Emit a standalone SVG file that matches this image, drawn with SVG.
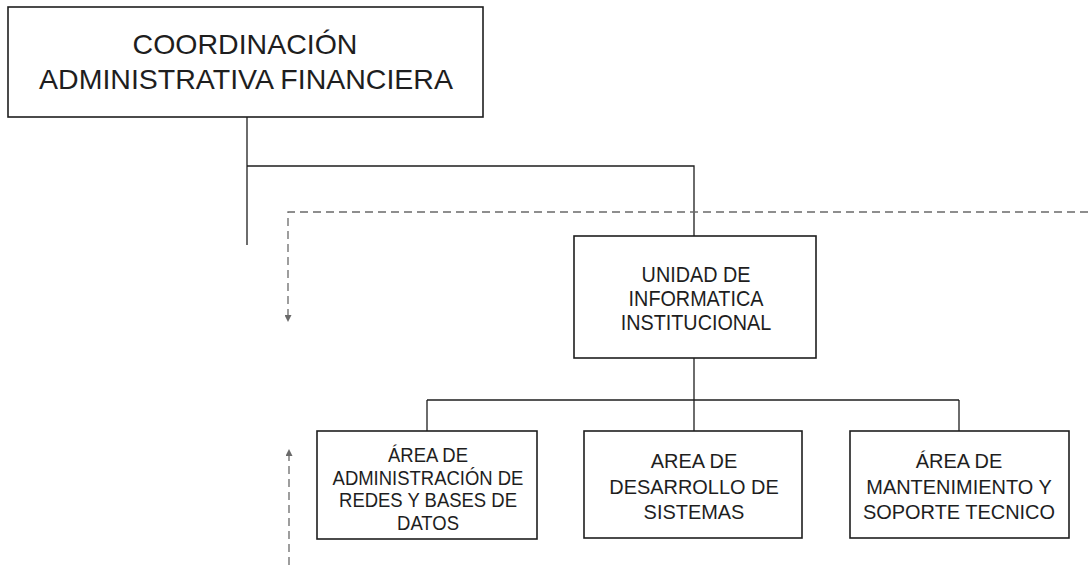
<svg xmlns="http://www.w3.org/2000/svg" width="1088" height="565" viewBox="0 0 1088 565">
<style>
.box{fill:#fff;stroke:#1e1e1e;stroke-width:1.6}
.t{font-family:"Liberation Sans",Arial,Helvetica,sans-serif;fill:#1e1e1e;text-anchor:middle}
.conn{fill:none;stroke:#1e1e1e;stroke-width:1.3}
.dash{fill:none;stroke:#6a6a6a;stroke-width:1.3;stroke-dasharray:8 5}
</style>
<defs>
<marker id="arr" viewBox="0 0 10 10" refX="10" refY="5" markerWidth="8" markerHeight="7" markerUnits="userSpaceOnUse" orient="auto">
<path d="M0,0 L10,5 L0,10 z" fill="#6a6a6a"/>
</marker>
</defs>
<rect width="1088" height="565" fill="#fff"/>
<g id="connectors">
<path class="conn" d="M247,117 V245"/>
<path class="conn" d="M247,166 H694 V236"/>
<path class="conn" d="M694,358 V400"/>
<path class="conn" d="M427,400 H959"/>
<path class="conn" d="M427,400 V431"/>
<path class="conn" d="M694,400 V431"/>
<path class="conn" d="M959,400 V431"/>
<path class="dash" d="M1088,212 H288 V322" marker-end="url(#arr)"/>
<path class="dash" d="M289,565 V449" marker-end="url(#arr)"/>
</g>
<g id="n_coordinacion">
<rect class="box" x="8" y="7" width="475" height="110"/>
<text class="t" x="245" y="54" font-size="28.5">COORDINACIÓN</text>
<text class="t" x="246" y="89" font-size="28.5">ADMINISTRATIVA FINANCIERA</text>
</g>
<g id="n_unidad">
<rect class="box" x="574" y="236" width="242" height="122"/>
<g transform="translate(696,0) scale(0.9,1)">
<text class="t" x="0" y="282" font-size="22">UNIDAD DE</text>
<text class="t" x="0" y="306" font-size="22">INFORMATICA</text>
<text class="t" x="0" y="330" font-size="22">INSTITUCIONAL</text>
</g>
</g>
<g id="n_redes">
<rect class="box" x="317" y="431" width="220" height="108"/>
<g transform="translate(428,0) scale(0.88,1)">
<text class="t" x="0" y="462" font-size="21">ÁREA DE</text>
<text class="t" x="0" y="485" font-size="21">ADMINISTRACIÓN DE</text>
<text class="t" x="0" y="507" font-size="21">REDES Y BASES DE</text>
<text class="t" x="0" y="530" font-size="21">DATOS</text>
</g>
</g>
<g id="n_desarrollo">
<rect class="box" x="584" y="431" width="218" height="107"/>
<g transform="translate(694,0) scale(0.95,1)">
<text class="t" x="0" y="468" font-size="21">AREA DE</text>
<text class="t" x="0" y="494" font-size="21">DESARROLLO DE</text>
<text class="t" x="0" y="519" font-size="21">SISTEMAS</text>
</g>
</g>
<g id="n_mantenimiento">
<rect class="box" x="850" y="431" width="219" height="107"/>
<g transform="translate(959,0) scale(0.95,1)">
<text class="t" x="0" y="468" font-size="21">ÁREA DE</text>
<text class="t" x="0" y="494" font-size="21">MANTENIMIENTO Y</text>
<text class="t" x="0" y="519" font-size="21">SOPORTE TECNICO</text>
</g>
</g>
</svg>
